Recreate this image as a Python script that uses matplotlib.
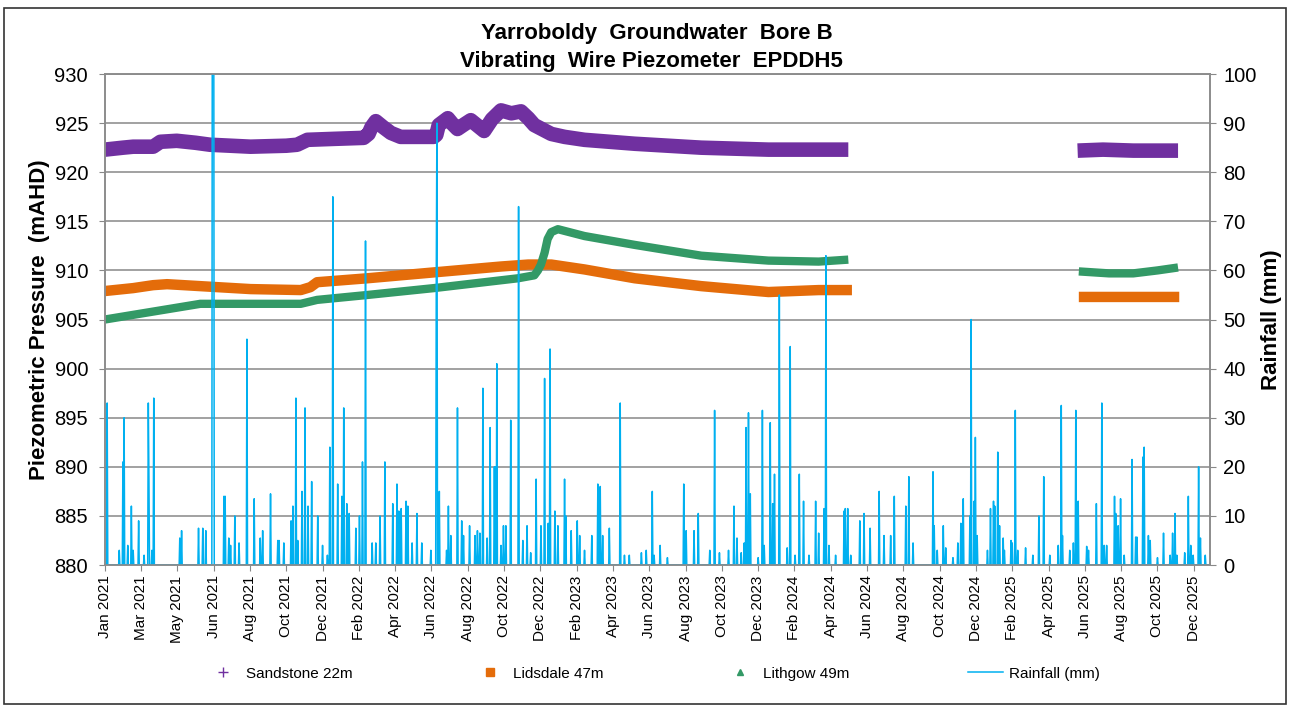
import numpy as np
import pandas as pd
import matplotlib
matplotlib.use("Agg")
import matplotlib.pyplot as plt
import matplotlib.dates as mdates
from matplotlib.lines import Line2D

# all x positions are days since 1 Jan 2021
START = pd.Timestamp("2021-01-01")

sand_days = [0, 30, 47, 80, 92, 119, 150, 174, 241, 300, 318, 335, 380, 428, 436, 441, 448,
             460, 473, 489, 544, 548, 552, 567, 575, 583, 595, 605, 615, 627, 640, 655, 672,
             688, 700, 710, 738, 760, 793, 876, 986, 1097, 1229,
             1400, 1608, 1650, 1700, 1774]
sand_vals = [922.3, 922.5, 922.6, 922.6, 923.1, 923.2, 923.0, 922.8, 922.6, 922.7, 922.8, 923.3,
             923.4, 923.5, 923.9, 924.6, 925.2, 924.6, 924.0, 923.6, 923.6, 923.8, 924.8, 925.5,
             924.9, 924.4, 924.9, 925.3, 924.8, 924.2, 925.4, 926.3, 926.0, 926.2, 925.5, 924.8,
             923.9, 923.6, 923.3, 922.9, 922.5, 922.3, 922.3,
             np.nan, 922.2, 922.3, 922.2, 922.2]

lids_days = [0, 47, 80, 103, 158, 241, 324, 340, 351, 434, 544, 655, 700, 738, 793, 876, 986,
             1097, 1180, 1235,
             1400, 1610, 1700, 1776]
lids_vals = [907.9, 908.2, 908.5, 908.6, 908.4, 908.1, 908.0, 908.3, 908.8, 909.2, 909.8, 910.4,
             910.6, 910.6, 910.1, 909.2, 908.4, 907.8, 908.0, 908.0,
             np.nan, 907.3, 907.3, 907.3]

lith_days = [0, 158, 324, 351, 434, 544, 683, 710, 716, 721, 727, 732, 738, 749, 793, 876, 986,
             1097, 1180, 1229,
             1400, 1610, 1660, 1700, 1740, 1774]
lith_vals = [905.0, 906.6, 906.6, 907.0, 907.5, 908.2, 909.2, 909.5, 910.0, 910.6, 911.8, 913.2,
             913.9, 914.2, 913.5, 912.6, 911.5, 911.0, 910.9, 911.1,
             np.nan, 909.9, 909.7, 909.7, 910.0, 910.3]

# daily rainfall (mm), days without an entry are 0
rain_days = [4, 24, 30, 32, 38, 44, 47, 56, 65, 72, 73, 78, 81, 124, 127, 155, 162, 167,
             178, 179, 180, 197, 199, 205, 208, 215, 222, 235, 247, 257, 261,
             274, 286, 288, 296, 308, 311, 316, 319, 326, 331, 336, 342, 352, 360, 368, 372,
             377, 385, 392, 395, 400, 404, 415, 421, 426, 431, 442, 448, 455, 463, 476, 483,
             486, 490, 498, 501, 508, 516, 524, 539, 548, 549, 553, 565, 568, 572, 583, 590,
             593, 603, 612, 616, 620, 625, 632, 637, 644, 646, 648, 655, 659, 663, 671, 684,
             691, 698, 704, 713, 721, 727, 733, 736, 744, 749, 760, 762, 771, 781, 785, 793,
             805, 815, 819, 823, 834, 852, 859, 867, 887, 895, 905, 908, 918, 930, 957, 961,
             974, 981, 1000, 1008, 1016, 1031, 1040, 1045, 1052, 1057, 1060, 1064, 1067, 1080,
             1087, 1090, 1100, 1104, 1107, 1115, 1128, 1133, 1141, 1148, 1155, 1164, 1175, 1180,
             1189, 1192, 1197, 1208, 1222, 1224, 1228, 1233, 1248, 1255, 1265, 1280, 1288, 1299,
             1305, 1324, 1329, 1336, 1369, 1371, 1376, 1386, 1390, 1402, 1410, 1415, 1419,
             1430, 1432, 1437, 1439, 1442, 1459, 1464, 1469, 1471, 1476, 1479, 1485, 1487,
             1498, 1500, 1505, 1509, 1522, 1534, 1544, 1552, 1562, 1576, 1581, 1583, 1595,
             1601, 1605, 1609, 1623, 1626, 1639, 1648, 1652, 1656, 1669, 1671, 1675, 1679,
             1685, 1698, 1704, 1706, 1716, 1718, 1725, 1728, 1740, 1750, 1761, 1765, 1769,
             1772, 1785, 1791, 1795, 1799, 1808, 1811, 1819]
rain_vals = [33, 3, 21, 30, 4, 12, 3, 9, 2, 33, 18, 3, 34, 5.5, 7, 7.5, 7.5, 7,
             150, 180, 140, 14, 14, 5.5, 4, 10, 4.5, 46, 13.5, 5.5, 7,
             14.5, 5, 5, 4.5, 9, 12, 34, 5, 15, 32, 12, 17, 10, 4, 2, 24,
             75, 16.5, 14, 32, 12.5, 10.5, 7.5, 10, 21, 66, 4.5, 4.5, 10, 21, 12.5, 16.5,
             11, 11.5, 13, 12, 4.5, 10.5, 4.5, 3, 60, 90, 15, 3, 12, 6, 32, 9,
             6, 8, 6, 7, 6.5, 36, 5.5, 28, 20, 20, 41, 4, 8, 8, 29.5, 73,
             5, 8, 2.5, 17.5, 8, 38, 8.5, 44, 11, 8, 17.5, 10, 7, 9, 6, 3,
             6, 16.5, 16, 6, 7.5, 33, 2, 2, 2.5, 3, 15, 2, 4, 1.5, 16.5, 7,
             7, 10.5, 3, 31.5, 2.5, 3, 12, 5.5, 2.5, 4.5, 28, 31, 14.5, 1.5,
             31.5, 4, 29, 12.5, 18.5, 55, 3.5, 44.5, 2, 18.5, 13, 2, 13, 6.5,
             11.5, 63, 4, 2, 11, 11.5, 11.5, 2, 9, 10.5, 7.5, 15, 6, 6,
             14, 12, 18, 4.5, 19, 8, 3, 8, 3.5, 1.5, 4.5, 8.5, 13.5,
             10, 50, 13, 26, 6, 3, 11.5, 13, 12, 23, 8, 5.5, 3,
             5, 4.5, 31.5, 3, 3.5, 2, 10, 18, 2, 4, 32.5, 6, 3,
             4.5, 31.5, 13, 3.8, 3, 12.5, 33, 4, 4, 14, 10.5, 8, 13.5,
             2, 21.5, 5.7, 5.7, 22, 24, 6, 5, 1.5, 6.5, 2, 6.5, 10.5,
             2, 2.5, 14, 4, 2, 20, 5.5, 2]

rain_daily = np.zeros(1827)
rain_daily[rain_days] = rain_vals

left_ticks = np.arange(880, 931, 5)
right_ticks = np.arange(0, 101, 10)
# Excel style date axis: one label every 60 days
date_ticks = [START + pd.Timedelta(days=60 * i) for i in range(31)]

purple = "#7030A0"
orange = "#E46C0A"
green = "#339966"
blue = "#00B0F0"


def to_dates(days):
    return START + pd.to_timedelta(days, unit="D")


plt.rcParams["font.family"] = ["Liberation Sans", "DejaVu Sans"]

fig = plt.figure(figsize=(12.9, 7.07), dpi=100)
ax = fig.add_axes([0.0812, 0.2008, 0.8564, 0.6945])
ax2 = ax.twinx()

ax.plot(to_dates(sand_days), sand_vals, color=purple, lw=10.5, solid_capstyle="butt")
ax.plot(to_dates(lids_days), lids_vals, color=orange, lw=7.5, solid_capstyle="butt")
ax.plot(to_dates(lith_days), lith_vals, color=green, lw=6, solid_capstyle="butt")

ax2.plot(to_dates(np.arange(len(rain_daily))), rain_daily, color=blue, lw=1.1)

ax.set_xlim(START, START + pd.Timedelta(days=1826))
ax.set_ylim(880, 930)
ax2.set_ylim(0, 100)
ax.set_yticks(left_ticks)
ax2.set_yticks(right_ticks)
ax.set_xticks(date_ticks)
ax.xaxis.set_major_formatter(mdates.DateFormatter("%b %Y"))
ax.tick_params(axis="x", labelrotation=90, labelsize=11, length=4, color="#888888")
ax.tick_params(axis="y", labelsize=14.5, length=4, pad=8, color="#888888")
ax2.tick_params(axis="y", labelsize=14.5, length=4, pad=6, color="#888888")

ax.grid(axis="y", color="#9a9a9a", lw=1.3)
for a in (ax, ax2):
    for s in a.spines.values():
        s.set_color("#8c8c8c")
        s.set_linewidth(1.2)

ax.set_ylabel("Piezometric Pressure  (mAHD)", fontsize=16, fontweight="bold", labelpad=3)
ax2.set_ylabel("Rainfall (mm)", fontsize=16, fontweight="bold", labelpad=3)

fig.text(0.509, 0.952, "Yarroboldy  Groundwater  Bore B", ha="center", va="center",
         fontsize=16, fontweight="bold")
fig.text(0.505, 0.913, "Vibrating  Wire Piezometer  EPDDH5", ha="center", va="center",
         fontsize=16, fontweight="bold")

handles = [
    Line2D([], [], ls="none", marker="+", color=purple, ms=7),
    Line2D([], [], ls="none", marker="s", color=orange, ms=6),
    Line2D([], [], ls="none", marker="^", color=green, ms=5),
    Line2D([], [], color=blue, lw=1.1),
]
labels = ["Sandstone 22m", "Lidsdale 47m", "Lithgow 49m", "Rainfall (mm)"]
fig.legend(handles, labels, loc="center", bbox_to_anchor=(0.506, 0.047), ncol=4,
           frameon=False, fontsize=11, columnspacing=7.8, handlelength=2.3,
           handletextpad=0.35)

# outer chart border
fig.patches.append(plt.Rectangle((0.003, 0.004), 0.994, 0.984, transform=fig.transFigure,
                                 fill=False, edgecolor="#333333", lw=1.2))

fig.savefig("out.png", dpi=100)
